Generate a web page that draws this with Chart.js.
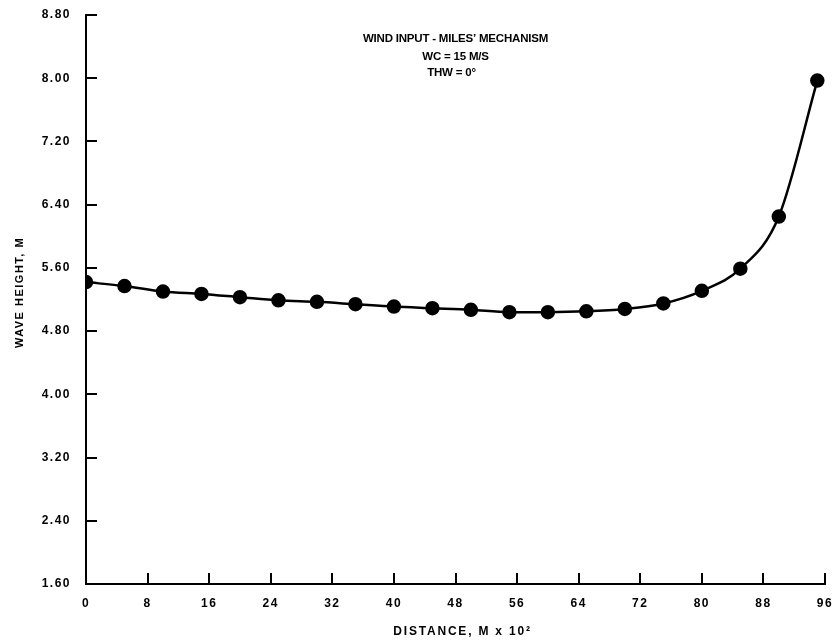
<!DOCTYPE html>
<html>
<head>
<meta charset="utf-8">
<script src="https://cdn.jsdelivr.net/npm/chart.js@4"></script>
<style>
  html, body { margin: 0; padding: 0; background: #fff; }
  #wrap { width: 835px; height: 644px; }
</style>
</head>
<body>
<div id="wrap"><canvas id="waveHeight"></canvas></div>
<script>
// distance (M x 10^2) and wave height (M)
const distance = [0, 5, 10, 15, 20, 25, 30, 35, 40, 45, 50, 55, 60, 65, 70, 75, 80, 85, 90, 95];
const waveHeight = [5.42, 5.37, 5.30, 5.27, 5.23, 5.19, 5.17, 5.14, 5.11, 5.09, 5.07, 5.04, 5.04, 5.05, 5.08, 5.15, 5.31, 5.59, 6.25, 7.97];
const xTicks = [0, 8, 16, 24, 32, 40, 48, 56, 64, 72, 80, 88, 96];
const yTicks = [1.6, 2.4, 3.2, 4.0, 4.8, 5.6, 6.4, 7.2, 8.0, 8.8];
const titleLines = ['WIND INPUT - MILES\u2019 MECHANISM', 'WC = 15 M/S', 'THW = 0\u00B0'];
const xTitle = 'DISTANCE, M x 10\u00B2';
const yTitle = 'WAVE HEIGHT, M';

const fontFam = '"Liberation Sans", Arial, sans-serif';

// wider tracking for the tick labels (canvas state gets reset on resize)
const spacing = {
    id: 'spacing',
    beforeDraw(chart) {
        chart.ctx.letterSpacing = '1.5px';
    }
};

// inward tick marks, axis titles and the title text inside the plot
const decor = {
    id: 'decor',
    afterDraw(chart) {
        const ctx = chart.ctx;
        const area = chart.chartArea;
        const xs = chart.scales.x, ys = chart.scales.y;
        ctx.save();
        ctx.strokeStyle = '#000';
        ctx.lineWidth = 2;
        xTicks.forEach(v => {
            const px = Math.round(xs.getPixelForValue(v));
            ctx.beginPath();
            ctx.moveTo(px, area.bottom);
            ctx.lineTo(px, area.bottom - 11);
            ctx.stroke();
        });
        yTicks.forEach(v => {
            const py = Math.round(ys.getPixelForValue(v));
            ctx.beginPath();
            ctx.moveTo(area.left, py);
            ctx.lineTo(area.left + 11, py);
            ctx.stroke();
        });

        ctx.fillStyle = '#000';
        ctx.textAlign = 'center';
        ctx.textBaseline = 'middle';

        ctx.font = 'bold 11.5px ' + fontFam;
        ctx.letterSpacing = '-0.2px';
        const cx = xs.getPixelForValue(48);
        ctx.fillText(titleLines[0], cx, 39);
        ctx.fillText(titleLines[1], cx, 57);
        ctx.fillText(titleLines[2], cx - 4, 73);

        ctx.font = 'bold 12px ' + fontFam;
        ctx.letterSpacing = '1.8px';
        ctx.fillText(xTitle, (area.left + area.right) / 2 + 7, 632);

        ctx.font = 'bold 11px ' + fontFam;
        ctx.letterSpacing = '1.5px';
        ctx.translate(20, (area.top + area.bottom) / 2 - 7);
        ctx.rotate(-Math.PI / 2);
        ctx.fillText(yTitle, 0, 0);
        ctx.restore();
    }
};

const ctxWave = document.getElementById('waveHeight').getContext('2d');
const lineChart = new Chart(ctxWave, {
    type: 'line',
    data: {
        datasets: [{
            data: distance.map((d, i) => ({ x: d, y: waveHeight[i] })),
            borderColor: '#000',
            backgroundColor: '#000',
            borderWidth: 2.5,
            pointRadius: 6,
            pointHoverRadius: 6,
            cubicInterpolationMode: 'monotone',
            fill: false
        }]
    },
    options: {
        responsive: true,
        maintainAspectRatio: false,
        animation: false,
        layout: { padding: { top: 15, right: 10, left: 0, bottom: 0 } },
        plugins: {
            legend: { display: false },
            tooltip: { enabled: false }
        },
        scales: {
            x: {
                type: 'linear',
                min: 0,
                max: 96,
                afterBuildTicks: s => { s.ticks = xTicks.map(v => ({ value: v })); },
                afterFit: s => { s.height = 60; s.paddingLeft = 0; s.paddingRight = 0; },
                grid: { display: false, drawTicks: false },
                border: { display: true, color: '#000', width: 2 },
                ticks: {
                    color: '#000',
                    padding: 12,
                    maxRotation: 0,
                    font: { family: fontFam, size: 12, weight: 'bold' }
                }
            },
            y: {
                type: 'linear',
                min: 1.6,
                max: 8.8,
                afterBuildTicks: s => { s.ticks = yTicks.map(v => ({ value: v })); },
                afterFit: s => { s.width = 86; s.paddingTop = 0; s.paddingBottom = 0; },
                grid: { display: false, drawTicks: false },
                border: { display: true, color: '#000', width: 2 },
                ticks: {
                    color: '#000',
                    padding: 15,
                    callback: v => v.toFixed(2),
                    font: { family: fontFam, size: 12, weight: 'bold' }
                }
            }
        }
    },
    plugins: [spacing, decor]
});
</script>
</body>
</html>
